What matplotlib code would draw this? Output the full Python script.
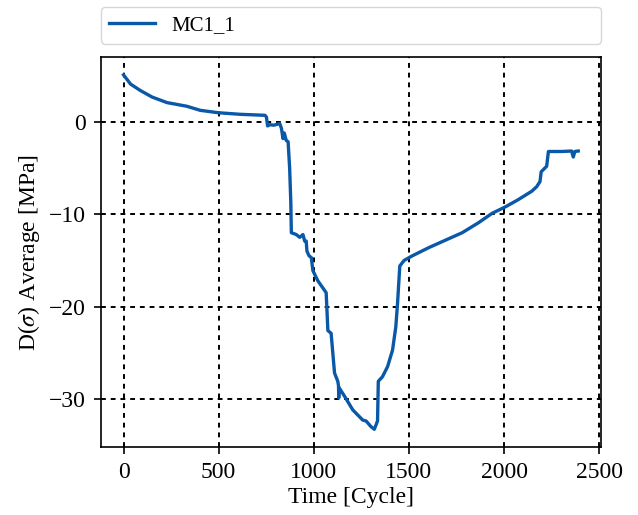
import matplotlib
matplotlib.use("Agg")
import matplotlib.pyplot as plt

plt.rcParams["font.family"] = ["Liberation Serif", "DejaVu Serif"]
plt.rcParams["mathtext.fontset"] = "stix"

# Averaged stress change over time for specimen MC1_1
cycle = [0, 37, 89, 150, 228, 333, 403, 498, 612, 743, 751, 757, 770, 790, 821,
         830, 838, 845, 855, 865, 873, 879, 882, 908, 926, 943, 952, 960, 964,
         975, 987, 995, 1021, 1065, 1074, 1091, 1109, 1126, 1130, 1131, 1133,
         1161, 1205, 1257, 1275, 1300, 1318, 1335, 1339, 1361, 1388, 1414, 1431,
         1440, 1452, 1475, 1518, 1606, 1693, 1780, 1867, 1937, 2007, 2076, 2146,
         2172, 2189, 2195, 2224, 2233, 2303, 2355, 2364, 2372, 2390]
stress = [5.1, 4.1, 3.4, 2.7, 2.1, 1.7, 1.26, 1.0, 0.83, 0.72, 0.54, -0.43, -0.3,
          -0.35, -0.18, -0.7, -1.8, -1.2, -2.0, -2.15, -5.0, -8.6, -12.0, -12.2,
          -12.5, -12.2, -12.9, -12.9, -14.0, -14.5, -14.7, -16.1, -17.2, -18.5,
          -22.6, -22.9, -27.2, -28.1, -28.6, -29.9, -28.8, -29.7, -31.2, -32.3,
          -32.4, -33.0, -33.3, -32.4, -28.1, -27.6, -26.5, -24.7, -22.2, -19.7,
          -15.6, -15.0, -14.5, -13.6, -12.8, -12.0, -10.9, -9.9, -9.2, -8.4, -7.5,
          -7.0, -6.45, -5.4, -4.8, -3.2, -3.2, -3.15, -3.8, -3.2, -3.15]

x_ticks = [0, 500, 1000, 1500, 2000, 2500]
y_ticks = [0, -10, -20, -30]

fig = plt.figure(figsize=(6.38, 5.15), dpi=100)
ax = fig.add_axes([0.158, 0.132, 0.784, 0.757])

ax.plot(cycle, stress, color="#0a58a8", linewidth=2.4, label="MC1_1")

ax.set_xticks(x_ticks)
ax.set_yticks(y_ticks)
ax.set_xticklabels([str(v) for v in x_ticks])
ax.set_yticklabels(["0" if v == 0 else "\u2212" + str(abs(v)) for v in y_ticks])
ax.tick_params(direction="out", length=5, width=1.2, pad=6, labelsize=17,
               colors="black")
ax.grid(True, color="black", linestyle=(0, (2.5, 2.5)), linewidth=1.4)
for s in ax.spines.values():
    s.set_linewidth(1.2)
    s.set_color("black")

ax.set_xlabel("Time [Cycle]", fontsize=17, labelpad=3)
ax.set_ylabel("D($\\sigma$) Average [MPa]", fontsize=17, labelpad=4.5)

ax.legend(loc="lower left", bbox_to_anchor=(0, 1.035, 1, 0.1), mode="expand",
          fontsize=15, frameon=True, edgecolor="#cccccc", fancybox=True,
          handlelength=2.2, borderaxespad=0)

fig.savefig("out.png", dpi=100)
